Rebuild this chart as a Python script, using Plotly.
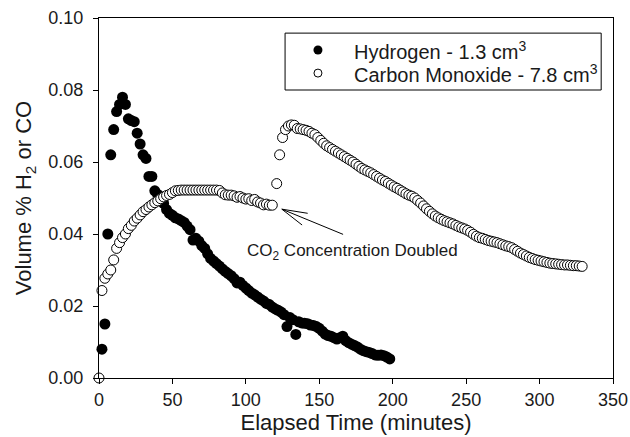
import plotly.graph_objects as go

# Hydrogen release (1.3 cm3 sample), sampled every 2 minutes
h2_time = list(range(2, 200, 2))
h2_vol = [
    0.0080, 0.0150, 0.0400, 0.0620, 0.0690, 0.0740, 0.0760, 0.0780, 0.0760, 0.0720,
    0.0715, 0.0712, 0.0680, 0.0650, 0.0620, 0.0610, 0.0560, 0.0560, 0.0520, 0.0510,
    0.0495, 0.0485, 0.0468, 0.0457, 0.0452, 0.0445, 0.0442, 0.0437, 0.0432, 0.0422,
    0.0412, 0.0383, 0.0388, 0.0380, 0.0368, 0.0360, 0.0345, 0.0332, 0.0325, 0.0318,
    0.0311, 0.0303, 0.0296, 0.0290, 0.0284, 0.0276, 0.0264, 0.0266, 0.0257, 0.0250,
    0.0243, 0.0236, 0.0231, 0.0225, 0.0219, 0.0214, 0.0207, 0.0204, 0.0197, 0.0192,
    0.0188, 0.0183, 0.0176, 0.0143, 0.0168, 0.0162, 0.0121, 0.0156, 0.0153, 0.0152,
    0.0151, 0.0147, 0.0146, 0.0143, 0.0138, 0.0130, 0.0122, 0.0118, 0.0116, 0.0112,
    0.0108, 0.0112, 0.0116, 0.0104, 0.0098, 0.0094, 0.0090, 0.0086, 0.0080, 0.0076,
    0.0073, 0.0071, 0.0068, 0.0064, 0.0063, 0.0064, 0.0062, 0.0058, 0.0053,
]

# Carbon monoxide release (7.8 cm3 sample), before the CO2 step
co_time_a = list(range(0, 120, 2))
co_vol_a = [
    0.0000, 0.0243, 0.0277, 0.0289, 0.0300, 0.0328, 0.0360, 0.0376, 0.0390, 0.0400,
    0.0415, 0.0424, 0.0436, 0.0444, 0.0453, 0.0462, 0.0468, 0.0475, 0.0481, 0.0487,
    0.0492, 0.0498, 0.0503, 0.0507, 0.0510, 0.0515, 0.0520, 0.0521, 0.0522, 0.0522,
    0.0522, 0.0522, 0.0522, 0.0522, 0.0522, 0.0522, 0.0522, 0.0522, 0.0522, 0.0522,
    0.0522, 0.0521, 0.0514, 0.0509, 0.0508, 0.0508, 0.0506, 0.0502, 0.0504, 0.0500,
    0.0497, 0.0498, 0.0493, 0.0496, 0.0489, 0.0486, 0.0481, 0.0483, 0.0480, 0.0480,
]
# ... and after the CO2 concentration was doubled
co_time_b = list(range(121, 331, 2))
co_vol_b = [
    0.0540, 0.0620, 0.0668, 0.0690, 0.0700, 0.0703, 0.0702, 0.0693, 0.0692, 0.0690,
    0.0688, 0.0685, 0.0680, 0.0676, 0.0668, 0.0660, 0.0652, 0.0645, 0.0640, 0.0635,
    0.0630, 0.0625, 0.0620, 0.0615, 0.0610, 0.0605, 0.0600, 0.0594, 0.0588, 0.0582,
    0.0578, 0.0574, 0.0570, 0.0565, 0.0560, 0.0555, 0.0550, 0.0546, 0.0541, 0.0536,
    0.0531, 0.0527, 0.0522, 0.0517, 0.0512, 0.0508, 0.0505, 0.0500, 0.0493, 0.0486,
    0.0478, 0.0470, 0.0463, 0.0456, 0.0450, 0.0445, 0.0441, 0.0437, 0.0434, 0.0431,
    0.0428, 0.0424, 0.0420, 0.0417, 0.0414, 0.0410, 0.0405, 0.0399, 0.0394, 0.0390,
    0.0388, 0.0385, 0.0382, 0.0380, 0.0378, 0.0376, 0.0373, 0.0370, 0.0367, 0.0365,
    0.0362, 0.0357, 0.0352, 0.0347, 0.0343, 0.0339, 0.0335, 0.0332, 0.0329, 0.0327,
    0.0325, 0.0323, 0.0321, 0.0319, 0.0318, 0.0317, 0.0316, 0.0315, 0.0314, 0.0314,
    0.0313, 0.0312, 0.0312, 0.0311, 0.0310,
]
co_time = co_time_a + co_time_b
co_vol = co_vol_a + co_vol_b

x_ticks = [0, 50, 100, 150, 200, 250, 300, 350]
y_ticks = [0.00, 0.02, 0.04, 0.06, 0.08, 0.10]

legend_labels = ["Hydrogen - 1.3 cm<sup>3</sup>", "Carbon Monoxide - 7.8 cm<sup>3</sup>"]

FONT = "Liberation Sans, Arial, sans-serif"
INK = "#1a1a1a"

h2_marker = dict(symbol="circle", size=11, color="black", line=dict(width=0))
co_marker = dict(symbol="circle", size=10, color="white", line=dict(width=1, color="black"))

fig = go.Figure()
fig.add_trace(go.Scatter(
    x=h2_time, y=h2_vol, mode="markers", name=legend_labels[0],
    marker=h2_marker, cliponaxis=False, showlegend=False,
))
fig.add_trace(go.Scatter(
    x=co_time, y=co_vol, mode="markers", name=legend_labels[1],
    marker=co_marker, cliponaxis=False, showlegend=False,
))

# Legend box: keys drawn on a hidden unit-square axis laid over the plot area
legend_rows_y = [0.911, 0.847]
key_x = 0.426
text_x = 0.492
fig.add_trace(go.Scatter(
    x=[key_x], y=[legend_rows_y[0]], xaxis="x2", yaxis="y2", mode="markers",
    marker=dict(symbol="circle", size=9, color="black"), showlegend=False, hoverinfo="skip",
))
fig.add_trace(go.Scatter(
    x=[key_x], y=[legend_rows_y[1]], xaxis="x2", yaxis="y2", mode="markers",
    marker=dict(symbol="circle", size=8, color="white", line=dict(width=1, color="black")),
    showlegend=False, hoverinfo="skip",
))
fig.add_shape(type="rect", xref="paper", yref="paper", x0=0.362, x1=0.977, y0=0.80, y1=0.958,
              line=dict(color="black", width=1), fillcolor="white", layer="below")
for label, ry in zip(legend_labels, legend_rows_y):
    fig.add_annotation(
        x=text_x, y=ry, xref="paper", yref="paper", xanchor="left", yanchor="middle",
        text=label, showarrow=False, font=dict(family=FONT, size=20, color=INK),
    )

# Arrow pointing at the CO2 step
tip = (124.5, 0.0469)
arrow_lines = [(166.2, 0.0399), (142.1, 0.04575), (138.3, 0.0425)]
for (x1, y1) in arrow_lines:
    fig.add_shape(type="line", xref="x", yref="y", x0=tip[0], y0=tip[1], x1=x1, y1=y1,
                  line=dict(color="black", width=1))

fig.add_annotation(
    x=99.6, y=0.035, xref="x", yref="y", xanchor="left", yanchor="middle",
    text="CO<sub>2</sub> Concentration Doubled", showarrow=False,
    font=dict(family=FONT, size=17, color=INK),
)

axis_common = dict(
    showline=True, linecolor="black", linewidth=1, mirror=True,
    ticks="outside", ticklen=5, tickwidth=1, tickcolor="black",
    showgrid=False, zeroline=False, automargin=False,
    tickfont=dict(family=FONT, size=18, color=INK),
)

fig.update_layout(
    width=630, height=437,
    margin=dict(l=99, r=17, t=18, b=59),
    paper_bgcolor="white", plot_bgcolor="white",
    font=dict(family=FONT, color=INK),
    showlegend=False,
    xaxis=dict(
        range=[0, 350], tickvals=x_ticks, ticktext=[str(v) for v in x_ticks],
        title=dict(text="Elapsed Time (minutes)", font=dict(family=FONT, size=22, color=INK), standoff=6),
        **axis_common,
    ),
    yaxis=dict(
        range=[0, 0.10], tickvals=y_ticks, ticktext=[f"{v:.2f}" for v in y_ticks],
        ticklabelstandoff=6,
        title=dict(text="Volume % H<sub>2</sub> or CO", font=dict(family=FONT, size=22, color=INK), standoff=10),
        **axis_common,
    ),
    xaxis2=dict(overlaying="x", range=[0, 1], visible=False, fixedrange=True),
    yaxis2=dict(overlaying="y", range=[0, 1], visible=False, fixedrange=True),
)

fig.write_html("out.html")
